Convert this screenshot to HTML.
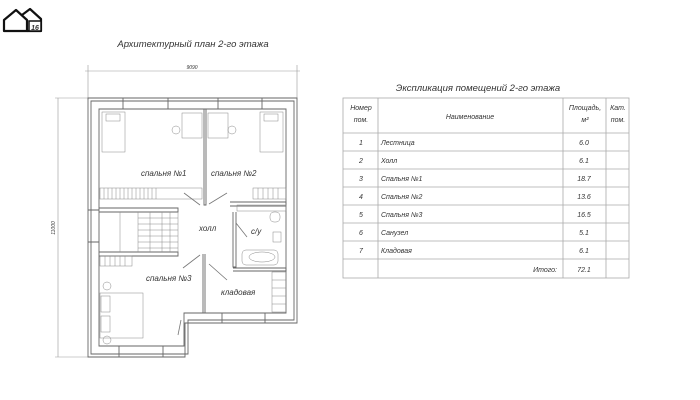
<!DOCTYPE html>
<html><head><meta charset="utf-8"><style>
body{margin:0;background:#fff;width:700px;height:400px;overflow:hidden}
svg{display:block}
text{font-family:"Liberation Sans",sans-serif;font-style:italic;fill:#333}
</style></head><body>
<svg width="700" height="400" viewBox="0 0 700 400">
<!-- logo -->
<g fill="none" stroke="#111" stroke-width="2.2" stroke-linejoin="round">
<path d="M4 31 L4 20 L16 10 L27 20 L27 31 Z"/>
<path d="M22 15 L30 9 L41 19 L41 31 L27 31"/>
</g>
<rect x="29" y="21" width="12" height="10" fill="#fff" stroke="#111" stroke-width="1.5"/>
<text x="35" y="30" font-size="7" font-style="normal" font-weight="bold" text-anchor="middle" fill="#111">16</text>
<text x="193" y="47" font-size="9.5" text-anchor="middle">Архитектурный план 2-го этажа</text>
<text x="478" y="91" font-size="9.5" text-anchor="middle">Экспликация помещений 2-го этажа</text>
<!-- dimensions -->
<g stroke="#999" stroke-width="0.6" fill="none">
<line x1="85" y1="71" x2="300" y2="71"/>
<line x1="88" y1="65" x2="88" y2="100"/><line x1="297" y1="65" x2="297" y2="100"/>
<line x1="58" y1="98" x2="58" y2="357"/>
<line x1="55" y1="98" x2="88" y2="98"/><line x1="55" y1="357" x2="88" y2="357"/>
</g>
<text x="192" y="69" font-size="5" text-anchor="middle">9090</text>
<text x="55" y="228" font-size="5" text-anchor="middle" transform="rotate(-90 55 228)">11000</text>
<!-- walls -->
<g fill="none" stroke="#666" stroke-width="0.9">
<path d="M88 98 H297 V323 H185 V357 H88 Z"/>
<path d="M91 101 H294 V320 H188 V354 H91 Z"/>
<path d="M99 109 H286 V313 H184 V316 H184 V346 H99 Z"/>
<path d="M99 210 H88 M99 242 H88"/>
<path d="M99 208 H178 V212 H99"/>
<path d="M99 252 H178 V256 H99"/>
<path d="M204 109 V205 H206 V109"/>
<path d="M203 254 V313 H205 V254"/>
<path d="M230 202 H286 V206 H230"/>
<path d="M233 212 V267 H236 V212"/>
<path d="M233 268 H286 V271 H233"/>
<path d="M123 98 V109 M168 98 V109 M218 98 V109 M262 98 V109"/>
<path d="M119 346 V357 M163 346 V357 M222 313 V323 M265 313 V323"/>
</g>
<!-- stairs -->
<g stroke="#888" stroke-width="0.5" fill="none">
<path d="M120 212 V252 M138 212 V252 M178 212 V252"/>
<path d="M138 218 H178 M138 224 H178 M138 230 H178 M138 236 H178 M138 242 H178 M138 248 H178"/>
<path d="M150 212V252 M162 212V252 M170 212V252"/>
<rect x="100" y="188" width="102" height="11"/><path d="M104 188v11M108 188v11M112 188v11M116 188v11M120 188v11M124 188v11M128 188v11M132 188v11M136 188v11M140 188v11M144 188v11M148 188v11M152 188v11M156 188v11"/>
<rect x="253" y="188" width="33" height="11"/><path d="M258 188v11M263 188v11M268 188v11M273 188v11M278 188v11"/>
<rect x="100" y="256" width="32" height="10"/><path d="M105 256v10M110 256v10M115 256v10M120 256v10M125 256v10"/>
<rect x="272" y="272" width="14" height="40"/><path d="M272 280h14M272 288h14M272 296h14M272 304h14"/>
<rect x="237" y="205" width="49" height="6"/>
<!-- beds -->
<rect x="102" y="112" width="23" height="40"/><rect x="106" y="114" width="14" height="7"/>
<rect x="260" y="112" width="23" height="40"/><rect x="264" y="114" width="14" height="7"/>
<rect x="100" y="293" width="43" height="45"/><rect x="101" y="296" width="9" height="16"/><rect x="101" y="316" width="9" height="16"/>
<circle cx="107" cy="286" r="4"/><circle cx="107" cy="340" r="4"/>
<rect x="182" y="113" width="20" height="25"/><rect x="208" y="113" width="20" height="25"/>
<circle cx="176" cy="130" r="4"/><circle cx="232" cy="130" r="4"/>
<rect x="242" y="250" width="36" height="15" rx="4"/><ellipse cx="262" cy="257" rx="13" ry="5"/>
<rect x="270" y="212" width="10" height="10" rx="4"/>
<rect x="273" y="232" width="8" height="10"/>
</g>
<g stroke="#777" stroke-width="0.8">
<line x1="184" y1="193" x2="200" y2="205"/><line x1="209" y1="204" x2="227" y2="193"/>
<line x1="183" y1="268" x2="200" y2="255"/><line x1="209" y1="264" x2="227" y2="280"/>
<line x1="236" y1="223" x2="247" y2="237"/>
<line x1="178" y1="335" x2="181" y2="320"/>
</g>
<g font-size="8">
<text x="141" y="176">спальня №1</text>
<text x="211" y="176">спальня №2</text>
<text x="199" y="231">холл</text>
<text x="251" y="234">с/у</text>
<text x="146" y="281">спальня №3</text>
<text x="221" y="295">кладовая</text>
</g>
<!-- table -->
<g stroke="#aaa" stroke-width="0.8" fill="none">
<rect x="343" y="98" width="286" height="180"/>
<path d="M378 98V278M563 98V278M606 98V278"/>
<path d="M343 133H629M343 151H629M343 169H629M343 187H629M343 205H629M343 223H629M343 241H629M343 259H629"/>
</g>
<g font-size="7">
<text x="361" y="110" text-anchor="middle">Номер</text><text x="361" y="122" text-anchor="middle">пом.</text>
<text x="470" y="119" text-anchor="middle">Наименование</text>
<text x="585" y="110" text-anchor="middle">Площадь,</text><text x="585" y="122" text-anchor="middle">м²</text>
<text x="618" y="110" text-anchor="middle">Кат.</text><text x="618" y="122" text-anchor="middle">пом.</text>
<text x="361" y="145" text-anchor="middle">1</text><text x="381" y="145">Лестница</text><text x="584" y="145" text-anchor="middle">6.0</text>
<text x="361" y="163" text-anchor="middle">2</text><text x="381" y="163">Холл</text><text x="584" y="163" text-anchor="middle">6.1</text>
<text x="361" y="181" text-anchor="middle">3</text><text x="381" y="181">Спальня №1</text><text x="584" y="181" text-anchor="middle">18.7</text>
<text x="361" y="199" text-anchor="middle">4</text><text x="381" y="199">Спальня №2</text><text x="584" y="199" text-anchor="middle">13.6</text>
<text x="361" y="217" text-anchor="middle">5</text><text x="381" y="217">Спальня №3</text><text x="584" y="217" text-anchor="middle">16.5</text>
<text x="361" y="235" text-anchor="middle">6</text><text x="381" y="235">Санузел</text><text x="584" y="235" text-anchor="middle">5.1</text>
<text x="361" y="253" text-anchor="middle">7</text><text x="381" y="253">Кладовая</text><text x="584" y="253" text-anchor="middle">6.1</text>
<text x="557" y="272" text-anchor="end">Итого:</text><text x="584" y="272" text-anchor="middle">72.1</text>
</g>
</svg>
</body></html>
